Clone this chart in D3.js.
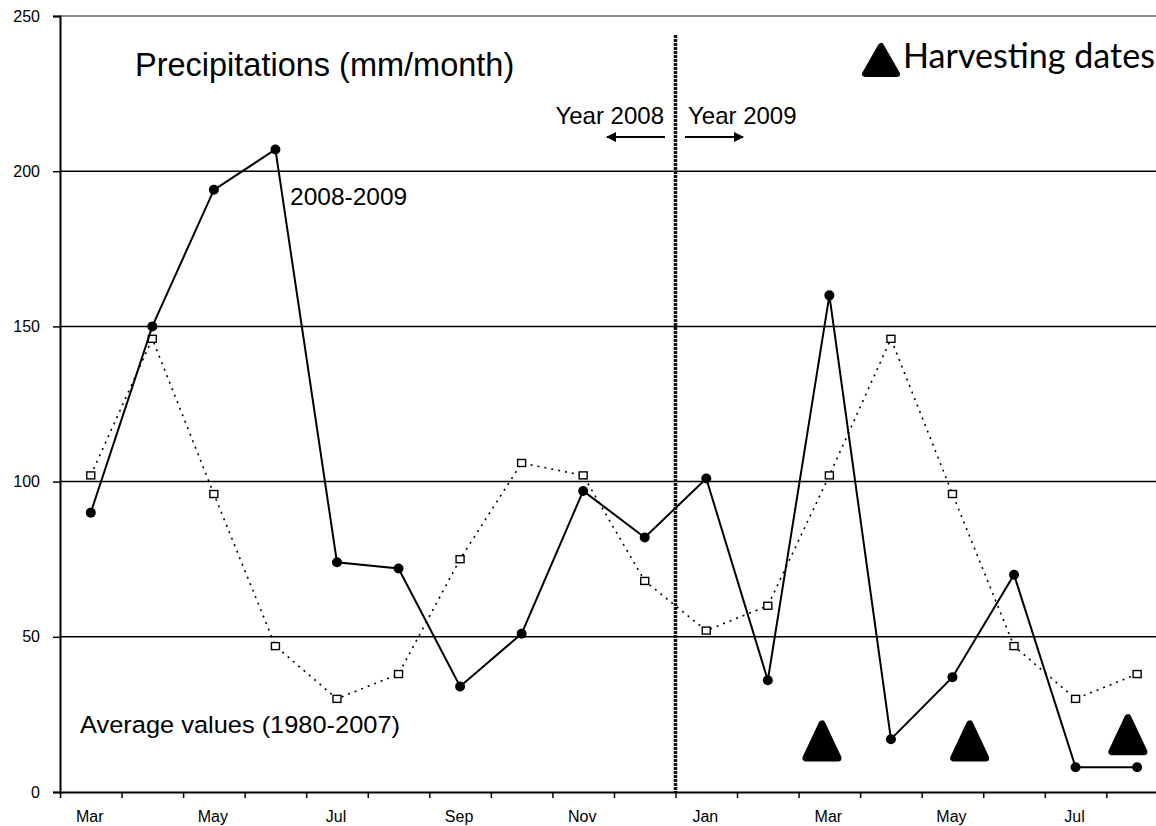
<!DOCTYPE html>
<html>
<head>
<meta charset="utf-8">
<script src="https://cdn.jsdelivr.net/npm/d3@7"></script>
<style>
  body { margin: 0; background: #fff; }
  svg { display: block; font-family: "Liberation Sans", Arial, sans-serif; }
</style>
</head>
<body>
<div id="chart"></div>
<script>
// Months from March 2008 to August 2009
const months = ["Mar", "Apr", "May", "Jun", "Jul", "Aug", "Sep", "Oct", "Nov", "Dec",
                "Jan", "Feb", "Mar", "Apr", "May", "Jun", "Jul", "Aug"];
// Monthly precipitation 2008-2009 (mm/month)
const rain2008_2009 = [90, 150, 194, 207, 74, 72, 34, 51, 97, 82,
                       101, 36, 160, 17, 37, 70, 8, 8];
// Average values 1980-2007 (mm/month)
const rainAverage = [102, 146, 96, 47, 30, 38, 75, 106, 102, 68,
                     52, 60, 102, 146, 96, 47, 30, 38];
// Harvesting dates (fractional month index) and the level of the marker base
const harvestPos = [11.88, 14.28, 16.85];
const harvestBase = [10, 10, 12];
const yTicks = [0, 50, 100, 150, 200, 250];

const width = 1156, height = 826;
const svg = d3.select("#chart").append("svg")
    .attr("width", width)
    .attr("height", height);

const plotLeft = 60, plotTop = 16, plotBottom = 792, band = 61.55;

// Month index scale, each month takes one band
const x = d3.scaleLinear().domain([0, months.length]).range([plotLeft, plotLeft + months.length * band]);
const y = d3.scaleLinear().domain([0, 250]).range([plotBottom, plotTop]);

// --------------------------------------
// Grid lines
svg.append("g")
    .selectAll("line")
    .data(yTicks.filter(d => d > 0 && d < 250))
    .join("line")
    .attr("x1", plotLeft).attr("x2", width)
    .attr("y1", d => y(d)).attr("y2", d => y(d))
    .attr("stroke", "#000")
    .attr("stroke-width", 1.5);

// Top border of the plot area
svg.append("line")
    .attr("x1", plotLeft).attr("x2", width)
    .attr("y1", y(250)).attr("y2", y(250))
    .attr("stroke", "#8c8c8c")
    .attr("stroke-width", 2);

// --------------------------------------
// Y axis
const yAxis = svg.append("g")
    .attr("transform", `translate(${plotLeft},0)`)
    .call(d3.axisLeft(y).tickValues(yTicks).tickSize(7).tickPadding(13));
yAxis.select(".domain").attr("stroke", "#000").attr("stroke-width", 2);
yAxis.selectAll(".tick line").attr("stroke", "#000").attr("stroke-width", 1.5);
yAxis.selectAll(".tick text")
    .attr("fill", "#000")
    .style("font-size", "16px")
    .style("font-family", "'Liberation Sans', Arial, sans-serif");

// X axis: ticks between months, labels on every other month
const xAxis = svg.append("g")
    .attr("transform", `translate(0,${plotBottom})`)
    .call(d3.axisBottom(x).tickValues(d3.range(0, months.length + 1)).tickSize(6).tickFormat(""));
xAxis.select(".domain").attr("stroke", "#000").attr("stroke-width", 2)
    .attr("d", `M${plotLeft},0.5H${width}`);
xAxis.selectAll(".tick line").attr("stroke", "#000").attr("stroke-width", 1.5);

svg.append("g")
    .selectAll("text")
    .data(months.map((m, i) => ({ m, i })).filter(d => d.i % 2 === 0))
    .join("text")
    .attr("x", d => x(d.i + 0.5) - 1)
    .attr("y", 822)
    .attr("text-anchor", "middle")
    .style("font-size", "16px")
    .text(d => d.m);

// --------------------------------------
// Separation between 2008 and 2009
svg.append("line")
    .attr("x1", x(10)).attr("x2", x(10))
    .attr("y1", 35).attr("y2", plotBottom)
    .attr("stroke", "#111")
    .attr("stroke-width", 3.5)
    .attr("stroke-dasharray", "3,1");

// --------------------------------------
// Average values (dotted line, open squares)
const line = d3.line().x((d, i) => x(i + 0.5)).y(d => y(d));
svg.append("path")
    .datum(rainAverage)
    .attr("d", line)
    .attr("fill", "none")
    .attr("stroke", "#000")
    .attr("stroke-width", 1.6)
    .attr("stroke-dasharray", "2,5");
svg.append("g")
    .selectAll("rect")
    .data(rainAverage)
    .join("rect")
    .attr("x", (d, i) => x(i + 0.5) - 4)
    .attr("y", d => y(d) - 3.5)
    .attr("width", 8)
    .attr("height", 7)
    .attr("fill", "#fff")
    .attr("stroke", "#000")
    .attr("stroke-width", 1.4);

// 2008-2009 values (solid line, filled dots)
svg.append("path")
    .datum(rain2008_2009)
    .attr("d", line)
    .attr("fill", "none")
    .attr("stroke", "#000")
    .attr("stroke-width", 2);
svg.append("g")
    .selectAll("circle")
    .data(rain2008_2009)
    .join("circle")
    .attr("cx", (d, i) => x(i + 0.5))
    .attr("cy", d => y(d))
    .attr("r", 5)
    .attr("fill", "#000");

// --------------------------------------
// Harvesting dates
const tri = (cx, base, w, h) => `M${cx - w / 2},${base}L${cx + w / 2},${base}L${cx},${base - h}Z`;
svg.append("g")
    .selectAll("path")
    .data(harvestPos.map((p, i) => ({ p, b: harvestBase[i] })))
    .join("path")
    .attr("d", d => tri(x(d.p + 0.5), y(d.b) - 3, 32, 34))
    .attr("fill", "#000")
    .attr("stroke", "#000")
    .attr("stroke-width", 7)
    .attr("stroke-linejoin", "round");

// Legend for harvesting dates
svg.append("path")
    .attr("d", tri(881, 74, 32, 28))
    .attr("fill", "#000")
    .attr("stroke", "#000")
    .attr("stroke-width", 6)
    .attr("stroke-linejoin", "round");
svg.append("text")
    .attr("x", 903).attr("y", 68)
    .style("font-family", "Lato, 'Open Sans', sans-serif")
    .style("font-size", "34px")
    .attr("textLength", 252)
    .attr("lengthAdjust", "spacingAndGlyphs")
    .text("Harvesting dates");

// --------------------------------------
// Texts
svg.append("text")
    .attr("x", 135).attr("y", 76)
    .style("font-size", "32.5px")
    .text("Precipitations (mm/month)");

svg.append("text")
    .attr("x", 664).attr("y", 124)
    .attr("text-anchor", "end")
    .style("font-size", "24px")
    .text("Year 2008");
svg.append("text")
    .attr("x", 688).attr("y", 124)
    .style("font-size", "24px")
    .text("Year 2009");

// Arrows
svg.append("defs").append("marker")
    .attr("id", "arrow")
    .attr("viewBox", "0 0 10 10")
    .attr("refX", 9).attr("refY", 5)
    .attr("markerWidth", 5).attr("markerHeight", 5)
    .attr("orient", "auto")
    .append("path")
    .attr("d", "M0,0L10,5L0,10Z")
    .attr("fill", "#000");
svg.append("line")
    .attr("x1", 665).attr("x2", 607)
    .attr("y1", 137).attr("y2", 137)
    .attr("stroke", "#000").attr("stroke-width", 2)
    .attr("marker-end", "url(#arrow)");
svg.append("line")
    .attr("x1", 685).attr("x2", 743)
    .attr("y1", 137).attr("y2", 137)
    .attr("stroke", "#000").attr("stroke-width", 2)
    .attr("marker-end", "url(#arrow)");

svg.append("text")
    .attr("x", 290).attr("y", 205)
    .style("font-size", "24.5px")
    .text("2008-2009");

svg.append("text")
    .attr("x", 80).attr("y", 733)
    .style("font-size", "24.5px")
    .attr("textLength", 320)
    .attr("lengthAdjust", "spacingAndGlyphs")
    .text("Average values (1980-2007)");
</script>
</body>
</html>
